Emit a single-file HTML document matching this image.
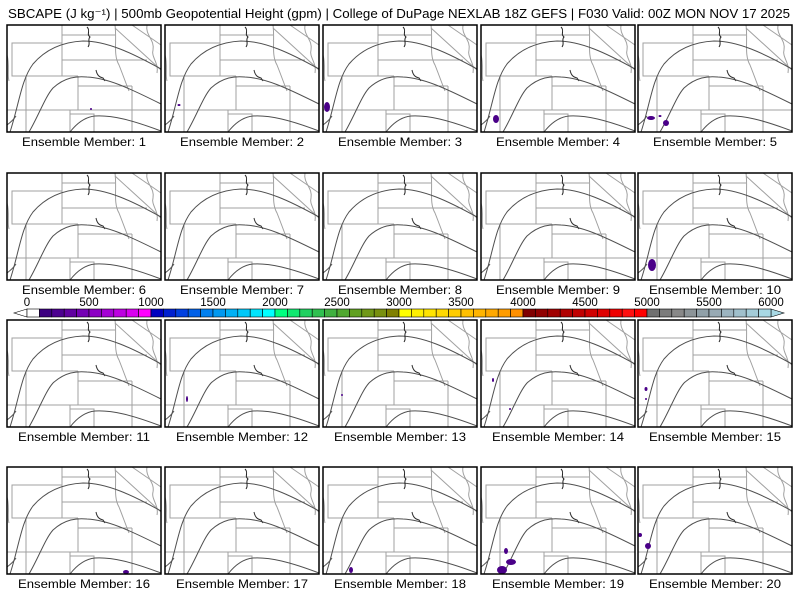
<!DOCTYPE html>
<html><head><meta charset="utf-8"><style>
html,body{margin:0;padding:0;background:#fff;}
svg{display:block;font-family:"Liberation Sans",sans-serif;}
</style></head><body>
<svg id="chart" width="800" height="600" viewBox="0 0 800 600">
<defs>
<g id="basemap">
 <g fill="none" stroke="#a0a0a0" stroke-width="1">
  <path d="M5,18 H55 V51 H5 Z"/>
  <path d="M55,18 V0"/>
  <path d="M55,10 H108"/>
  <path d="M55,35 H112"/>
  <path d="M19,51 V107"/>
  <path d="M55,51 H71"/>
  <path d="M71,51 V85"/>
  <path d="M71,61 H125"/>
  <path d="M0,85 H154"/>
  <path d="M63,85 V107"/>
  <path d="M63,89 H87 V107"/>
  <path d="M125,61 V107"/>
  <path d="M108,0 C110,15 106,30 112,40 C116,50 118,56 122,66"/>
  <path d="M112,35 H140"/>
  <path d="M108,3 L154,45"/>
  <path d="M125,0 L154,20"/>
  <path d="M140,0 C138,10 148,15 146,25 C144,32 152,38 150,48"/>
  <path d="M0,30 C3,40 0,50 2,56"/>
 </g>
 <g fill="none" stroke="#505050" stroke-width="1">
  <path d="M3,107 C12,80 14,55 26,39 C38,25 55,17 76,16 C100,16 125,28 154,44"/>
  <path d="M22,107 C32,90 38,72 46,63 C58,52 70,51 80,52 C100,53 120,62 154,79"/>
  <path d="M63,107 C70,98 78,92 88,91 C105,90 125,95 154,106"/>
  <path d="M0,100 C4,97 7,94 9,91"/>
  <path d="M80,2 C84,6 79,9 83,12 C80,15 84,18 81,22" stroke="#202020"/>
  <path d="M89,45 C90,50 92,52 96,53 L98,56" stroke="#303030"/>
 </g>
</g>
</defs>
<text x="8" y="18" font-size="12.5" textLength="782" lengthAdjust="spacingAndGlyphs" fill="#000">SBCAPE (J kg⁻¹) | 500mb Geopotential Height (gpm) | College of DuPage NEXLAB 18Z GEFS | F030 Valid: 00Z MON NOV 17 2025</text>
<g id="panels"></g>
<g id="colorbar"></g>
</svg>
<script>
const members = [1,2,3,4,5,6,7,8,9,10,11,12,13,14,15,16,17,18,19,20];
// CAPE blobs per member: [member, localX, localY, rx, ry]
const blobs = [[1,84,84,1,1],[2,14,80,1.5,1],[3,4,82,3,5],[4,15,94,3,4],[5,13,93,4,2],[5,28,98,3,3],[5,22,91,1.5,1],
 [10,14,92,4,6],[12,22,79,1,3],[13,19,75,1,1],[14,12,60,1,2],[14,29,89,1,1],[15,8,69,1.5,2],[15,8,79,1,1],
 [16,119,105,3,2],[18,28,103,2,3],[19,25,84,2,3],[19,21,103,5,4],[19,30,95,5,3],[20,2,68,2,2],[20,10,79,3,3]];
const cbLabels = ["0","500","1000","1500","2000","2500","3000","3500","4000","4500","5000","5500","6000"];
const cbColors = ["#ffffff",
 "#3d0080","#4c0090","#6000a0","#7400b4","#8c00c4","#a400d4","#bc00e0","#d800f0","#ff00ff",
 "#0000c0","#0020d0","#0040e0","#0060e8","#0080f0","#0098f0","#00b0f4","#00c8f8","#00e4fc","#00ffff",
 "#00ff80","#10e870","#20d060","#30c050","#40b040","#50a830","#60a020","#709818","#789010","#808000",
 "#ffff00","#fff000","#ffe400","#ffd800","#ffcc00","#ffc000","#ffb400","#ffa800","#ff9c00","#ff9000",
 "#800000","#900000","#a00000","#b00000","#c00000","#d00000","#e00000","#f00000","#ff1010","#ff0000",
 "#707070","#7c7c7c","#888888","#8c9498","#90a0a8","#98aab4","#9cb4c0","#a0c0cc","#a4ccd8","#a8d8e4"];
const NS="http://www.w3.org/2000/svg";
const panelsG=document.getElementById('panels');
const colX=[7,165,323,481,638], rowY=[25,173,320,467], PW=154, PH=107;
members.forEach((m,i)=>{
 const x=colX[i%5], y=rowY[Math.floor(i/5)];
 const g=document.createElementNS(NS,'g');
 
 
 g.setAttribute('transform',`translate(${x},${y})`);
 const u=document.createElementNS(NS,'use');
 u.setAttribute('href','#basemap');
 g.appendChild(u);
 blobs.filter(b=>b[0]===m).forEach(b=>{
  const e=document.createElementNS(NS,'ellipse');
  
  
  e.setAttribute('cx',b[1]);e.setAttribute('cy',b[2]);e.setAttribute('rx',b[3]);e.setAttribute('ry',b[4]);
  e.setAttribute('fill','#4a0088');
  g.appendChild(e);
 });
 const r=document.createElementNS(NS,'rect');
 
 
 r.setAttribute('x',0);r.setAttribute('y',0);r.setAttribute('width',PW);r.setAttribute('height',PH);
 r.setAttribute('fill','none');r.setAttribute('stroke','#000');r.setAttribute('stroke-width','1.5');
 g.appendChild(r);
 const t=document.createElementNS(NS,'text');
 
 
 t.setAttribute('x',PW/2);t.setAttribute('y',PH+14);t.setAttribute('text-anchor','middle');
 t.setAttribute('font-size','12');
 t.setAttribute('textLength', m<10?124:132);
 t.setAttribute('lengthAdjust','spacingAndGlyphs');
 t.textContent='Ensemble Member: '+m;
 g.appendChild(t);
 panelsG.appendChild(g);
});
// colorbar
const cb=document.getElementById('colorbar');
const cbX0=27, cbCell=12.4, cbY=309, cbH=8;
const tri=document.createElementNS(NS,'polygon');


tri.setAttribute('points',`${cbX0},${cbY} ${cbX0-13},${cbY+cbH/2} ${cbX0},${cbY+cbH}`);
tri.setAttribute('fill','#fff');tri.setAttribute('stroke','#000');tri.setAttribute('stroke-width','0.6');
cb.appendChild(tri);
const xEnd=cbX0+cbColors.length*cbCell;
const tri2=document.createElementNS(NS,'polygon');


tri2.setAttribute('points',`${xEnd},${cbY} ${xEnd+13},${cbY+cbH/2} ${xEnd},${cbY+cbH}`);
tri2.setAttribute('fill','#a8d8e4');tri2.setAttribute('stroke','#000');tri2.setAttribute('stroke-width','0.6');
cb.appendChild(tri2);
cbColors.forEach((c,i)=>{
 const r=document.createElementNS(NS,'rect');
 
 
 r.setAttribute('x',cbX0+i*cbCell);r.setAttribute('y',cbY);r.setAttribute('width',cbCell);r.setAttribute('height',cbH);
 r.setAttribute('fill',c);r.setAttribute('stroke','#000');r.setAttribute('stroke-width','0.6');
 cb.appendChild(r);
});
cbLabels.forEach((l,i)=>{
 const t=document.createElementNS(NS,'text');
 
 
 t.setAttribute('x',cbX0+i*5*cbCell);t.setAttribute('y',306);t.setAttribute('text-anchor','middle');
 t.setAttribute('font-size','11.5');
 t.textContent=l;
 cb.appendChild(t);
});
</script>
</body></html>
